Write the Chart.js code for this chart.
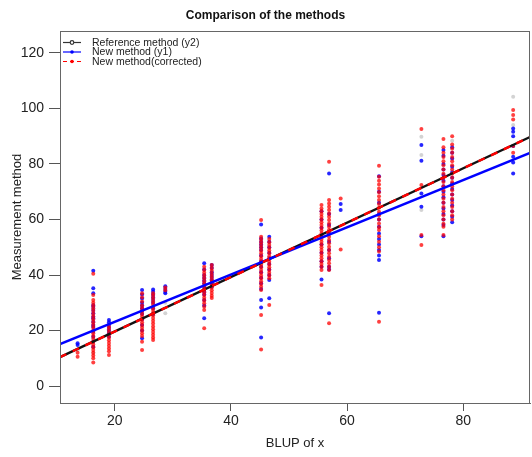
<!DOCTYPE html>
<html>
  <head>
    <meta charset="UTF-8" />
    <title>Comparison of the methods</title>
    <style>
      body {
        margin: 0;
        padding: 0;
        background-color: #fff;
      }
    </style>
  </head>
  <body>
    <canvas id="methodChart" width="532" height="457"></canvas>

    <script src="https://cdn.jsdelivr.net/npm/chart.js"></script>
    <script>
      // x position of each group of measurements (BLUP of x)
      const clusterX = [13.6, 16.3, 19.0, 24.7, 26.6, 28.7, 35.4, 36.7, 45.2, 46.6, 55.6, 56.9, 58.9, 65.5, 72.8, 76.6, 78.1, 88.6];

      // new method (y1), one list per group
      const blueY = [
        [15.4, 14.8],
        [41.5, 35.2, 33.4, 29.2, 28.6, 27.4, 26.2, 25, 24.4, 23.2, 22, 21.4, 19.6, 17.8, 16, 14.2],
        [23.8, 23, 22, 21, 20, 19, 17.8],
        [34.6, 33, 31.5, 30, 29, 28, 27, 26, 24, 22, 20, 17.2],
        [34.8, 34, 33, 32, 31, 30, 28, 26],
        [36, 35, 34, 33.4],
        [44.2, 42, 40, 39, 38, 37, 36, 35, 34, 33, 31, 29, 24.4],
        [43.6, 42.5, 41, 40, 39, 38, 37, 35.8],
        [58.2, 53.2, 52, 51, 50, 49, 47, 45, 43, 41, 39, 37, 35, 31, 28.3, 17.5],
        [53.8, 52, 50, 48, 46, 44, 42, 40, 38.2, 31.6],
        [63, 60, 57, 54, 51, 48, 45, 43, 38.4],
        [76.6, 62, 58, 55, 52, 49, 46, 43, 42, 26.2],
        [65.6, 63.4],
        [75.6, 70, 66, 62, 60, 57.4, 55, 53, 51, 49, 47, 45.4, 26.4],
        [86.8, 81.2, 69.4, 64.6, 54],
        [85, 83, 80, 78, 76, 74, 72, 70, 68, 66, 64, 62, 60, 58, 54],
        [86, 84, 82, 79, 77, 75, 73, 71, 69, 67, 65, 63, 61, 59],
        [92.8, 91.6, 90, 86.5, 82.6, 80.5, 76.6]
      ];

      // new method (corrected), one list per group
      const redY = [
        [12, 10.6],
        [40.5, 32.8, 31, 30, 29, 28, 27, 26, 25, 24, 23, 22, 21, 20, 19, 18, 17, 16, 15, 14, 13, 12, 11, 10, 8.5],
        [21.4, 20.5, 19.5, 18.5, 17.5, 16.5, 15.5, 14.5, 13.5, 12.5, 11.2],
        [33.4, 32, 30.5, 29, 28, 27, 26, 25, 24, 23, 22, 21, 20, 19, 18, 16, 13],
        [33.4, 32.5, 31.5, 30.5, 29.5, 28.5, 27.5, 26.5, 25.5, 24.5, 23.5, 22.5, 21.5, 20.5, 19.5, 18.5, 17.5, 16.6],
        [35.5, 34.5],
        [43, 41.8, 40.8, 39.8, 38.8, 37.8, 36.8, 35.8, 34.8, 33.8, 32.8, 31.8, 30.8, 29.8, 28.6, 27.4, 20.8],
        [43.6, 42.5, 41.5, 40.5, 39.5, 38.5, 37.5, 36.5, 35.5, 34.5, 33.5, 32.5, 31.7],
        [59.8, 53.8, 52.8, 51.8, 50.8, 49.8, 48.8, 47.8, 46.8, 45.8, 44.8, 43.8, 42.8, 41.8, 40.8, 39.8, 38.8, 37.8, 36.8, 35.8, 34.6, 25.6, 13.2],
        [53, 51.8, 50.8, 49.8, 48.8, 47.8, 46.8, 45.8, 44.8, 43.8, 42.8, 41.8, 40.8, 39.8, 38.8, 29.2],
        [65.2, 64, 63, 62, 61, 60, 59, 58, 57, 56, 55, 54, 53, 52, 51, 50, 49, 48, 47, 46, 45, 44, 43, 41.8, 36.4],
        [80.8, 67, 65.8, 64.6, 63.4, 62.2, 61, 59.8, 58.6, 57.4, 56.2, 55, 53.8, 52.6, 51.4, 50.2, 49, 47.8, 46.6, 45.4, 44.2, 43, 41.8, 22.6],
        [67.6, 49.2],
        [79.4, 75.4, 74, 72.6, 71.2, 69.8, 68.4, 67, 65.6, 64.2, 62.8, 61.4, 60, 58.6, 57.2, 56.2, 54, 52, 50, 48.5, 23.2],
        [92.6, 72.4, 54.4, 50.8],
        [89, 86, 84, 82.5, 81, 79.5, 78, 76.5, 75, 73.5, 72, 70.5, 69, 67.5, 66, 64.5, 63, 61.5, 60, 58.5, 57.4, 54.4],
        [90, 87, 85.5, 84, 82.5, 81, 79.5, 78, 76.5, 75, 73.5, 72, 70.5, 69, 67.5, 66, 64.5, 63, 61.5, 60],
        [99.4, 97.6, 96, 86.5, 84]
      ];

      // reference method (y2), only the few points that show through
      const grayX = [13.6, 16.3, 16.3, 28.7, 28.7, 72.8, 72.8, 72.8, 78.1, 88.6, 88.6];
      const grayY = [13, 12, 14, 26.2, 30, 89.8, 83.2, 63.4, 88.4, 104.2, 94];

      // fitted lines, read at the left and right edges of the plot
      const lineX = [10.57, 91.5];
      const refLineY = [10.4, 89.7];
      const newLineY = [15.1, 84];
      const corrLineY = [10.4, 89.7];

      const xTicks = [20, 40, 60, 80];
      const yTicks = [0, 20, 40, 60, 80, 100, 120];

      const fontFamily = "'Liberation Sans', Arial, sans-serif";

      function toPoints(ys) {
        const pts = [];
        ys.forEach((group, i) => {
          group.forEach((y) => pts.push({ x: clusterX[i], y: y }));
        });
        return pts;
      }

      function linePoints(ys) {
        return lineX.map((x, i) => ({ x: x, y: ys[i] }));
      }

      const legendItems = [
        { text: "Reference method (y2)", color: "#333", dash: [], open: true },
        { text: "New method (y1)", color: "#0000ff", dash: [], open: false },
        { text: "New method(corrected)", color: "#ff0000", dash: [4, 3], open: false },
      ];

      // R-style legend in the top left corner plus the box round the plot
      const boxAndLegend = {
        id: "boxAndLegend",
        afterDraw(chart) {
          const ctx = chart.ctx;
          const a = chart.chartArea;
          ctx.save();
          ctx.strokeStyle = "#666";
          ctx.lineWidth = 1;
          ctx.strokeRect(a.left + 0.5, a.top + 0.5, a.right - a.left - 1, a.bottom - a.top);

          legendItems.forEach((item, i) => {
            const y = 42.5 + i * 9.5;
            ctx.strokeStyle = item.color;
            ctx.lineWidth = 1.2;
            ctx.setLineDash(item.dash);
            ctx.beginPath();
            ctx.moveTo(63, y);
            ctx.lineTo(81, y);
            ctx.stroke();
            ctx.setLineDash([]);
            ctx.beginPath();
            ctx.arc(72, y, 1.8, 0, Math.PI * 2);
            if (item.open) {
              ctx.fillStyle = "#fff";
              ctx.fill();
              ctx.stroke();
            } else {
              ctx.fillStyle = item.color;
              ctx.fill();
            }
            ctx.fillStyle = "#222";
            ctx.font = "10.5px " + fontFamily;
            ctx.textBaseline = "middle";
            ctx.fillText(item.text, 92, y + 0.5);
          });
          ctx.restore();
        },
      };

      const pointStyle = (color, order) => ({
        type: "scatter",
        order: order,
        backgroundColor: color,
        borderWidth: 0,
        pointRadius: 2,
        pointHoverRadius: 2,
      });

      // higher order is drawn first (underneath)
      new Chart(document.getElementById("methodChart"), {
        type: "scatter",
        data: {
          datasets: [
            Object.assign(pointStyle("rgba(200, 200, 200, 0.8)", 6), {
              label: "Reference points",
              data: grayX.map((x, i) => ({ x: x, y: grayY[i] })),
            }),
            Object.assign(pointStyle("rgba(0, 0, 255, 0.85)", 5), {
              label: "New method (y1) points",
              data: toPoints(blueY),
            }),
            Object.assign(pointStyle("rgba(255, 0, 0, 0.75)", 4), {
              label: "New method(corrected) points",
              data: toPoints(redY),
            }),
            {
              type: "line",
              order: 3,
              label: "Reference method (y2)",
              data: linePoints(refLineY),
              borderColor: "#111",
              borderWidth: 2.4,
              pointRadius: 0,
            },
            {
              type: "line",
              order: 2,
              label: "New method (y1)",
              data: linePoints(newLineY),
              borderColor: "#0000ff",
              borderWidth: 2.4,
              pointRadius: 0,
            },
            {
              type: "line",
              order: 1,
              label: "New method(corrected)",
              data: linePoints(corrLineY),
              borderColor: "#ff0000",
              borderWidth: 2.4,
              borderDash: [7, 7],
              pointRadius: 0,
            },
          ],
        },
        options: {
          responsive: false,
          animation: false,
          events: [],
          layout: { padding: { top: 0, right: 1, left: 0, bottom: 0 } },
          plugins: {
            legend: { display: false },
            tooltip: { enabled: false },
            title: {
              display: true,
              text: "Comparison of the methods",
              color: "#111",
              font: { family: fontFamily, size: 12, weight: "bold" },
              padding: { top: 8, bottom: 8.6 },
            },
          },
          scales: {
            x: {
              type: "linear",
              min: lineX[0],
              max: lineX[1],
              afterBuildTicks: (scale) => {
                scale.ticks = xTicks.map((v) => ({ value: v }));
              },
              afterFit: (scale) => {
                scale.height = 54;
              },
              grid: { drawOnChartArea: false, tickLength: 8, color: "#555" },
              border: { color: "#666", width: 1 },
              ticks: {
                color: "#222",
                padding: 2,
                maxRotation: 0,
                font: { family: fontFamily, size: 14 },
              },
              title: {
                display: true,
                text: "BLUP of x",
                color: "#222",
                font: { family: fontFamily, size: 13 },
                padding: { top: 0, bottom: 6 },
              },
            },
            y: {
              type: "linear",
              min: -6.1,
              max: 127.9,
              afterBuildTicks: (scale) => {
                scale.ticks = yTicks.map((v) => ({ value: v }));
              },
              afterFit: (scale) => {
                scale.width = 60;
              },
              grid: { drawOnChartArea: false, tickLength: 11, color: "#555" },
              border: { color: "#666", width: 1 },
              ticks: {
                color: "#222",
                padding: 5,
                font: { family: fontFamily, size: 14 },
              },
              title: {
                display: true,
                text: "Measurement method",
                color: "#222",
                font: { family: fontFamily, size: 13 },
                padding: { top: 10, bottom: 0 },
              },
            },
          },
        },
        plugins: [boxAndLegend],
      });
    </script>
  </body>
</html>
